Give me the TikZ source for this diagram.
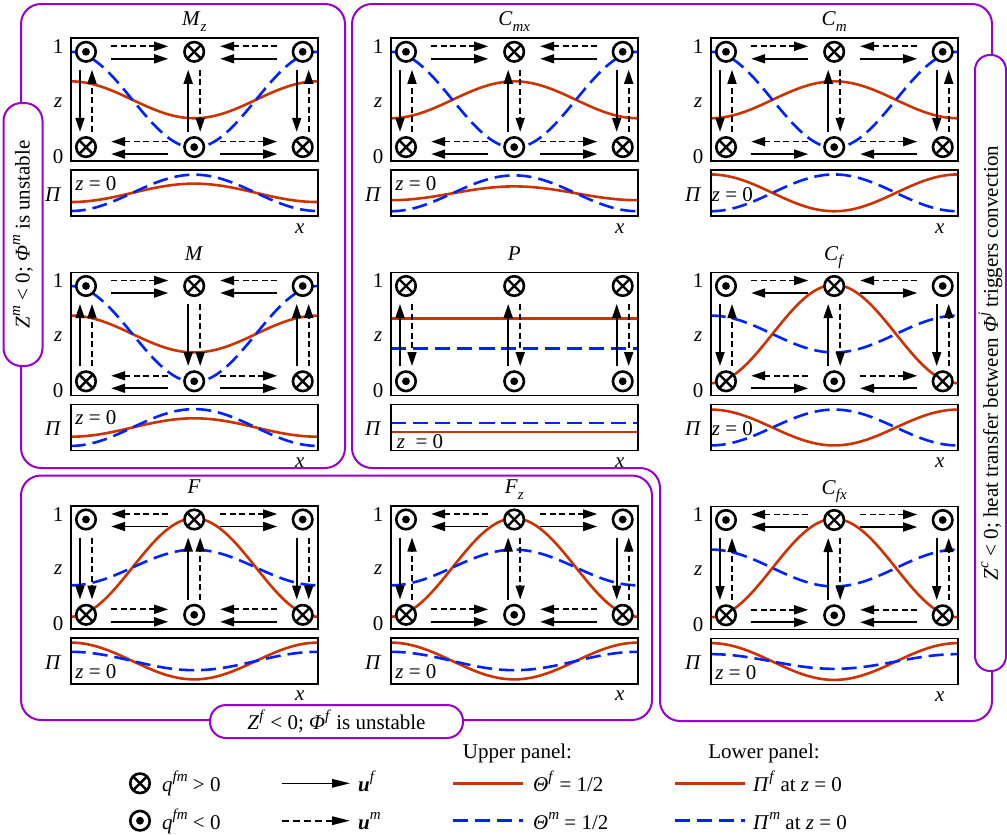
\documentclass[tikz,border=0pt]{standalone}
\usepackage{fontspec}
\setmainfont{Liberation Serif}
\usetikzlibrary{arrows.meta}

\definecolor{grp}{RGB}{153,0,204}
\definecolor{thred}{RGB}{204,51,0}
\definecolor{thblue}{RGB}{0,34,255}

% raised / lowered italic indices
\newcommand\supidx[1]{\raisebox{0.45em}{\fontsize{15}{15}\selectfont\textit{#1}}}
\newcommand\subidx[1]{\raisebox{-0.28em}{\fontsize{15}{15}\selectfont\textit{#1}}}

\tikzset{
  every node/.style={font=\fontsize{21}{24}\selectfont, inner sep=0pt},
  panelbox/.style={draw=black, line width=1.8pt},
  uf/.style={line width=1.7pt, -{Triangle[length=14pt,width=9pt]}},
  um/.style={uf, dash pattern=on 6pt off 3.5pt},
  lgf/.style={line width=1.6pt, -{Triangle[length=18pt,width=8.5pt]}},
  lgm/.style={lgf, dash pattern=on 7pt off 4pt},
  thf/.style={draw=thred, line width=2.6pt},
  thm/.style={draw=thblue, line width=2.6pt, dash pattern=on 15pt off 7pt},
  grpline/.style={draw=grp, line width=2pt, rounded corners=20pt},
  grplabel/.style={draw=grp, line width=2pt, fill=white, rounded corners=18pt},
  qbase/.style={circle, draw=black, line width=2.6pt, fill=white, minimum size=19.5pt, inner sep=0pt},
  qx/.style={qbase, path picture={\draw[black, line width=2.4pt]
      (path picture bounding box.north west) -- (path picture bounding box.south east)
      (path picture bounding box.north east) -- (path picture bounding box.south west);}},
  qd/.style={qbase, path picture={\fill[black] (path picture bounding box.center) circle (3.9pt);}},
}

% temperature contours (upper panel) and pressure profiles (lower panel)
\newcommand\thetaF[2]{\draw[thf] plot[domain=0:1,samples=61,smooth] ({247*\x},{123*(1-(#1)-(#2)*cos(360*\x))});}
\newcommand\thetaM[2]{\draw[thm] plot[domain=0:1,samples=61,smooth] ({247*\x},{123*(1-(#1)-(#2)*cos(360*\x))});}
\newcommand\piF[2]{\draw[thf] plot[domain=0:1,samples=61,smooth] ({247*\x},{178-46*((#1)+(#2)*cos(360*\x))});}
\newcommand\piM[2]{\draw[thm] plot[domain=0:1,samples=61,smooth] ({247*\x},{178-46*((#1)+(#2)*cos(360*\x))});}

% frames and axis labels of one panel
\newcommand\panelframe[2]{%
  \draw[panelbox] (0,0) rectangle (247,123);
  \draw[panelbox] (0,132) rectangle (247,178);
  \node[anchor=base] (#1-title) at (123.5,-12.5) {#2};
  \node (#1-one) at (-12.5,8.5) {1};
  \node (#1-z) at (-12.5,64) {\textit{z}};
  \node (#1-zero) at (-12.5,118) {0};
  \node (#1-pi) at (-17.5,156.5) {\textit{Π}};
  \node (#1-x) at (229,190) {\textit{x}};}

% exchange-term markers: top row L C R, bottom row L C R
\newcommand\circles[7]{%
  \node[#2] (#1-tl) at (15.3,13.5) {};
  \node[#3] (#1-tc) at (123.5,13.5) {};
  \node[#4] (#1-tr) at (232,13.5) {};
  \node[#5] (#1-bl) at (15.3,108.8) {};
  \node[#6] (#1-bc) at (123.5,108.8) {};
  \node[#7] (#1-br) at (232,108.8) {};}

% horizontal velocities in a row: 1 = to the right, -1 = to the left
\newcommand\hrow[5]{%
  \draw[um] ({69-(#2)*28.5},{#1-5.5}) -- ({69+(#2)*28.5},{#1-5.5});
  \draw[uf] ({69-(#3)*28.5},{#1+7}) -- ({69+(#3)*28.5},{#1+7});
  \draw[um] ({178-(#4)*28.5},{#1-5.5}) -- ({178+(#4)*28.5},{#1-5.5});
  \draw[uf] ({178-(#5)*28.5},{#1+7}) -- ({178+(#5)*28.5},{#1+7});}

% vertical velocities in a column: 1 = upward, -1 = downward
\newcommand\vcol[3]{%
  \draw[uf] ({#1-6},{62.5+(#2)*31}) -- ({#1-6},{62.5-(#2)*31});
  \draw[um] ({#1+6},{62.5+(#3)*31}) -- ({#1+6},{62.5-(#3)*31});}

\newcommand\zlab[4]{\node[anchor=west] (#1-zl) at (#2,#3) {#4};}

\begin{document}
\begin{tikzpicture}[x=1pt,y=-1pt]
\useasboundingbox (0,0) rectangle (1007,835);

% ---------- regime groups ----------
\draw[grpline] (21,4) rectangle (345,468);
\draw[grpline] (352,4) -- (992,4) -- (992,721) -- (660,721) -- (660,468) -- (352,468) -- cycle;
\draw[grpline] (21,475.5) rectangle (652,720);

\node[grplabel, rotate=90, minimum width=263pt, minimum height=39pt] (lbl-m) at (23,234.5)
  {\textit{Z}\supidx{m} < 0; \textit{Φ}\supidx{m} is unstable};
\node[grplabel, rotate=90, minimum width=616pt, minimum height=31pt, rounded corners=15pt] (lbl-c) at (990.5,363)
  {\textit{Z}\supidx{c} < 0; heat transfer between \textit{Φ}\supidx{j} triggers convection};
\node[grplabel, minimum width=253pt, minimum height=33pt, rounded corners=16pt] (lbl-f) at (336.5,721.5)
  {\textit{Z}\supidx{f} < 0; \textit{Φ}\supidx{f} is unstable};

% ---------- M_z ----------
\begin{scope}[shift={(70.7,38.3)}]
  \thetaF{0.5}{0.15}\thetaM{0.5}{0.39}\piF{0.51}{-0.2}\piM{0.51}{-0.395}
  \panelframe{Mz}{\textit{M}\subidx{z}}
  \circles{Mz}{qd}{qx}{qd}{qx}{qd}{qx}
  \hrow{13.5}{1}{1}{-1}{-1}\hrow{108.8}{-1}{-1}{1}{1}
  \vcol{15.3}{-1}{1}\vcol{123.5}{1}{-1}\vcol{232}{-1}{1}
  \zlab{Mz}{4.5}{145}{\textit{z} = 0}
\end{scope}

% ---------- M ----------
\begin{scope}[shift={(70.7,272.5)}]
  \thetaF{0.5}{0.15}\thetaM{0.5}{0.39}\piF{0.5}{-0.2}\piM{0.5}{-0.4}
  \panelframe{M}{\textit{M}}
  \circles{M}{qd}{qx}{qd}{qx}{qd}{qx}
  \hrow{13.5}{1}{1}{-1}{-1}\hrow{108.8}{-1}{-1}{1}{1}
  \vcol{15.3}{1}{1}\vcol{123.5}{-1}{-1}\vcol{232}{1}{1}
  \zlab{M}{4.5}{145}{\textit{z} = 0}
\end{scope}

% ---------- C_mx ----------
\begin{scope}[shift={(390.7,38.3)}]
  \thetaF{0.5}{-0.15}\thetaM{0.5}{0.39}\piF{0.5}{-0.15}\piM{0.5}{-0.39}
  \panelframe{Cmx}{\textit{C}\subidx{mx}}
  \circles{Cmx}{qd}{qx}{qd}{qx}{qd}{qx}
  \hrow{13.5}{1}{1}{-1}{-1}\hrow{108.8}{-1}{-1}{1}{1}
  \vcol{15.3}{-1}{1}\vcol{123.5}{1}{-1}\vcol{232}{-1}{1}
  \zlab{Cmx}{4.5}{145}{\textit{z} = 0}
\end{scope}

% ---------- C_m ----------
\begin{scope}[shift={(710.7,38.3)}]
  \thetaF{0.5}{-0.15}\thetaM{0.5}{0.39}\piF{0.51}{0.4}\piM{0.51}{-0.4}
  \panelframe{Cm}{\textit{C}\subidx{m}}
  \circles{Cm}{qd}{qx}{qd}{qx}{qd}{qx}
  \hrow{13.5}{1}{-1}{-1}{1}\hrow{108.8}{-1}{1}{1}{-1}
  \vcol{15.3}{-1}{1}\vcol{123.5}{1}{-1}\vcol{232}{-1}{1}
  \zlab{Cm}{1}{156.5}{\textit{z} = 0}
\end{scope}

% ---------- P ----------
\begin{scope}[shift={(390.7,272.5)}]
  \thetaF{0.627}{0}\thetaM{0.38}{0}\piF{0.4}{0}\piM{0.6}{0}
  \panelframe{P}{\textit{P}}
  \circles{P}{qx}{qx}{qx}{qd}{qd}{qd}
  \vcol{15.3}{1}{-1}\vcol{123.5}{1}{-1}\vcol{232}{1}{-1}
  \zlab{P}{6}{169}{\textit{z}\hspace{0.5em}= 0}
\end{scope}

% ---------- C_f ----------
\begin{scope}[shift={(710.7,272.5)}]
  \thetaF{0.5}{-0.4}\thetaM{0.5}{0.15}\piF{0.5}{0.39}\piM{0.5}{-0.39}
  \panelframe{Cf}{\textit{C}\subidx{f}}
  \circles{Cf}{qd}{qx}{qd}{qx}{qd}{qx}
  \hrow{13.5}{1}{-1}{-1}{1}\hrow{108.8}{-1}{1}{1}{-1}
  \vcol{15.3}{-1}{1}\vcol{123.5}{1}{-1}\vcol{232}{-1}{1}
  \zlab{Cf}{1}{156.5}{\textit{z} = 0}
\end{scope}

% ---------- F ----------
\begin{scope}[shift={(70.7,506)}]
  \thetaF{0.5}{-0.4}\thetaM{0.5}{-0.145}\piF{0.5}{0.4}\piM{0.5}{0.2}
  \panelframe{F}{\textit{F}}
  \circles{F}{qd}{qx}{qd}{qx}{qd}{qx}
  \hrow{13.5}{-1}{-1}{1}{1}\hrow{108.8}{1}{1}{-1}{-1}
  \vcol{15.3}{-1}{-1}\vcol{123.5}{1}{1}\vcol{232}{-1}{-1}
  \zlab{F}{4.5}{166}{\textit{z} = 0}
\end{scope}

% ---------- F_z ----------
\begin{scope}[shift={(390.7,506)}]
  \thetaF{0.5}{-0.4}\thetaM{0.5}{-0.145}\piF{0.5}{0.4}\piM{0.5}{0.2}
  \panelframe{Fz}{\textit{F}\subidx{z}}
  \circles{Fz}{qd}{qx}{qd}{qx}{qd}{qx}
  \hrow{13.5}{-1}{-1}{1}{1}\hrow{108.8}{1}{1}{-1}{-1}
  \vcol{15.3}{-1}{1}\vcol{123.5}{1}{-1}\vcol{232}{-1}{1}
  \zlab{Fz}{4.5}{166}{\textit{z} = 0}
\end{scope}

% ---------- C_fx ----------
\begin{scope}[shift={(710.7,506.5)}]
  \thetaF{0.5}{-0.4}\thetaM{0.5}{0.15}\piF{0.5}{0.4}\piM{0.5}{0.16}
  \panelframe{Cfx}{\textit{C}\subidx{fx}}
  \circles{Cfx}{qd}{qx}{qd}{qx}{qd}{qx}
  \hrow{13.5}{-1}{-1}{1}{1}\hrow{108.8}{1}{1}{-1}{-1}
  \vcol{15.3}{-1}{1}\vcol{123.5}{1}{-1}\vcol{232}{-1}{1}
  \zlab{Cfx}{4.5}{166}{\textit{z} = 0}
\end{scope}

% ---------- legend ----------
\node[anchor=base] (lg-up) at (517.5,758) {Upper panel:};
\node[anchor=base] (lg-lo) at (764,758) {Lower panel:};

\node[qx] (lg-qx) at (140,783.3) {};
\node[anchor=base west] (lg-qxt) at (162,791) {\textit{q}\supidx{fm} > 0};
\node[qd] (lg-qd) at (140,820.7) {};
\node[anchor=base west] (lg-qdt) at (162,829) {\textit{q}\supidx{fm} < 0};

\coordinate (lg-ufa) at (281.7,783.3);
\coordinate (lg-ufb) at (350,783.3);
\draw[lgf] (lg-ufa) -- (lg-ufb);
\node[anchor=base west] (lg-uft) at (358,791) {\textbf{\textit{u}}\supidx{f}};
\coordinate (lg-uma) at (281.7,820.7);
\coordinate (lg-umb) at (350,820.7);
\draw[lgm] (lg-uma) -- (lg-umb);
\node[anchor=base west] (lg-umt) at (358,829) {\textbf{\textit{u}}\supidx{m}};

\coordinate (lg-tfa) at (453,783.3);
\coordinate (lg-tfb) at (523,783.3);
\draw[thf] (lg-tfa) -- (lg-tfb);
\node[anchor=base west] (lg-tft) at (533,791) {\textit{Θ}\supidx{f} = 1/2};
\coordinate (lg-tma) at (453,820.7);
\coordinate (lg-tmb) at (523,820.7);
\draw[thm] (lg-tma) -- (lg-tmb);
\node[anchor=base west] (lg-tmt) at (533,829) {\textit{Θ}\supidx{m} = 1/2};

\coordinate (lg-pfa) at (675,783.3);
\coordinate (lg-pfb) at (745,783.3);
\draw[thf] (lg-pfa) -- (lg-pfb);
\node[anchor=base west] (lg-pft) at (753,791) {\textit{Π}\supidx{f} at \textit{z} = 0};
\coordinate (lg-pma) at (675,820.7);
\coordinate (lg-pmb) at (745,820.7);
\draw[thm] (lg-pma) -- (lg-pmb);
\node[anchor=base west] (lg-pmt) at (753,829) {\textit{Π}\supidx{m} at \textit{z} = 0};
\end{tikzpicture}
\end{document}
